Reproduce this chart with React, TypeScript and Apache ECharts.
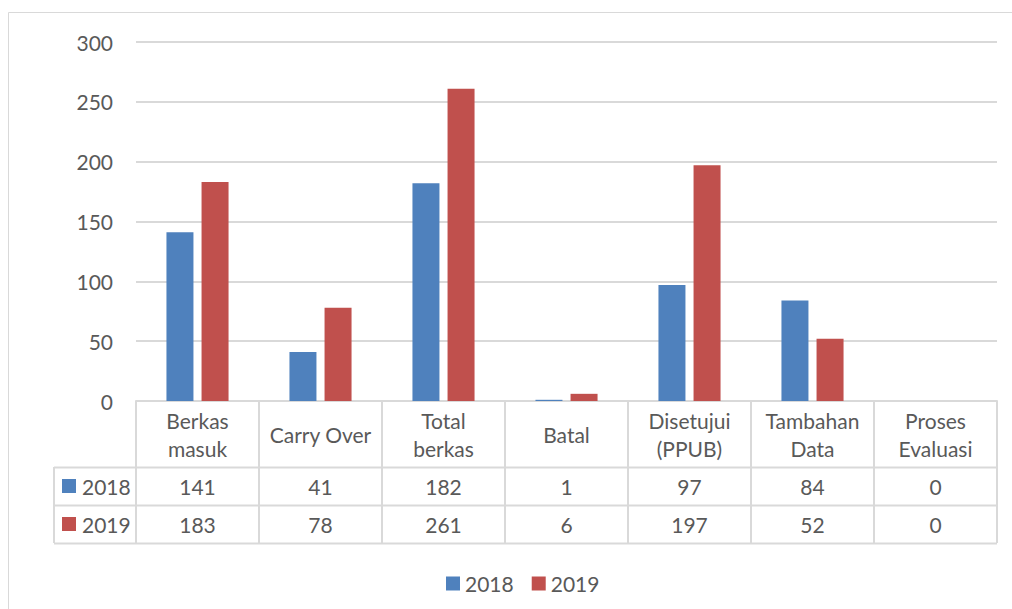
import React, { useEffect, useRef } from "react";
import * as echarts from "echarts";

const categories = [
  "Berkas\nmasuk",
  "Carry Over",
  "Total\nberkas",
  "Batal",
  "Disetujui\n(PPUB)",
  "Tambahan\nData",
  "Proses\nEvaluasi",
];
const seriesNames = ["2018", "2019"];
const values2018 = [141, 41, 182, 1, 97, 84, 0];
const values2019 = [183, 78, 261, 6, 197, 52, 0];
const yTicks = { min: 0, max: 300, interval: 50 };

const COLORS = ["#4F81BD", "#C0504D"];
const TEXT = "#595959";
const LINE = "#D9D9D9";
const FONT = "Lato";
const FS = 21;

const W = 1012;
const H = 609;
const GL = 136; // grid left x
const GR = 997; // grid right x
const GT = 42; // grid top y
const GB = 401; // grid bottom y
const HEADER_H = 66;
const ROW_H = 38;
const ROWLABEL_X = 54;

export default function App() {
  const ref = useRef<HTMLDivElement>(null);
  useEffect(() => {
    if (!ref.current) return;
    const chart = echarts.init(ref.current, undefined, { renderer: "svg" });
    const rowsY = [GB + HEADER_H, GB + HEADER_H + ROW_H, GB + HEADER_H + 2 * ROW_H];
    const allRows = [values2018, values2019];

    const graphic: any[] = [
      {
        type: "rect",
        shape: { x: 8.5, y: 12.5, width: 1100, height: 700 },
        style: { fill: "none", stroke: LINE, lineWidth: 1 },
        silent: true,
      },
    ];
    rowsY.forEach((y) => {
      graphic.push({
        type: "line",
        shape: { x1: ROWLABEL_X, y1: y + 0.5, x2: GR, y2: y + 0.5 },
        style: { stroke: LINE, lineWidth: 2 },
      });
    });
    graphic.push({
      type: "line",
      shape: { x1: ROWLABEL_X, y1: rowsY[0], x2: ROWLABEL_X, y2: rowsY[2] },
      style: { stroke: LINE, lineWidth: 2 },
    });
    seriesNames.forEach((name, i) => {
      const cy = rowsY[i] + ROW_H / 2;
      graphic.push({
        type: "rect",
        shape: { x: 62, y: cy - 7, width: 14, height: 14 },
        style: { fill: COLORS[i] },
      });
      graphic.push({
        type: "text",
        x: 82,
        y: cy,
        style: {
          text: name,
          fill: TEXT,
          font: `${FS}px ${FONT}`,
          verticalAlign: "middle",
          align: "left",
        },
      });
    });

    const rowAxis = (i: number) => ({
      type: "category",
      data: categories,
      position: "bottom",
      gridIndex: 0,
      axisLine: { show: false },
      axisTick: { show: false },
      axisLabel: {
        interval: 0,
        margin: HEADER_H + ROW_H * i + ROW_H / 2,
        verticalAlign: "middle",
        color: TEXT,
        fontFamily: FONT,
        fontSize: FS,
        formatter: (_v: string, idx: number) => String(allRows[i][idx]),
      },
    });

    chart.setOption({
      animation: false,
      backgroundColor: "#fff",
      grid: { left: GL, right: W - GR, top: GT, bottom: H - GB, containLabel: false },
      legend: {
        data: seriesNames,
        left: 441,
        top: 568,
        icon: "rect",
        itemWidth: 14,
        itemHeight: 14,
        itemGap: 18,
        textStyle: { color: TEXT, fontFamily: FONT, fontSize: FS },
      },
      xAxis: [
        {
          type: "category",
          data: categories,
          axisLine: { show: true, lineStyle: { color: LINE, width: 2 } },
          axisTick: {
            show: true,
            interval: 0,
            length: HEADER_H + 2 * ROW_H,
            lineStyle: { color: LINE, width: 2 },
          },
          axisLabel: {
            interval: 0,
            margin: HEADER_H / 2,
            verticalAlign: "middle",
            lineHeight: 28,
            color: TEXT,
            fontFamily: FONT,
            fontSize: FS,
          },
        },
        rowAxis(0),
        rowAxis(1),
      ],
      yAxis: {
        type: "value",
        min: yTicks.min,
        max: yTicks.max,
        interval: yTicks.interval,
        axisLine: { show: false },
        axisTick: { show: false },
        axisLabel: { color: TEXT, fontFamily: FONT, fontSize: FS, margin: 23 },
        splitLine: { lineStyle: { color: LINE, width: 2 } },
      },
      series: [
        {
          name: seriesNames[0],
          type: "bar",
          data: values2018,
          barWidth: 27,
          barGap: "30%",
          itemStyle: { color: COLORS[0] },
        },
        {
          name: seriesNames[1],
          type: "bar",
          data: values2019,
          barWidth: 27,
          barGap: "30%",
          itemStyle: { color: COLORS[1] },
        },
      ],
      graphic,
    });
    return () => chart.dispose();
  }, []);
  return (
    <div
      ref={ref}
      style={{ position: "absolute", left: 0, top: 0, width: W, height: H }}
    />
  );
}
